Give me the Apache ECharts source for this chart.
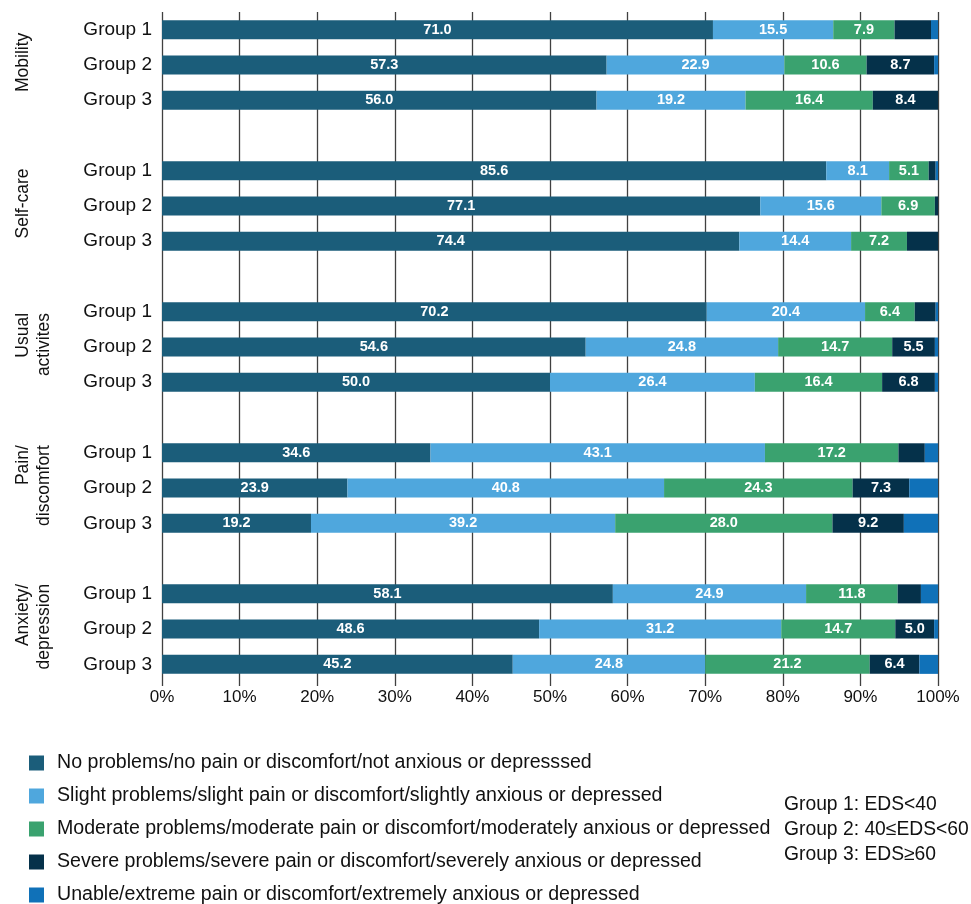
<!DOCTYPE html>
<html>
<head>
<meta charset="utf-8">
<script src="https://cdn.jsdelivr.net/npm/echarts@6/dist/echarts.min.js"></script>
<style>
html,body{margin:0;padding:0;background:#fff;}
#chart{width:971px;height:904px;}
</style>
</head>
<body>
<div id="chart"></div>
<script>
// ---- data ----
const dimensions = ['Mobility', 'Self-care', 'Usual\nactivites', 'Pain/\ndiscomfort', 'Anxiety/\ndepression'];
const groups = ['Group 1', 'Group 2', 'Group 3'];
const seriesNames = [
  'No problems/no pain or discomfort/not anxious or depresssed',
  'Slight problems/slight pain or discomfort/slightly anxious or depressed',
  'Moderate problems/moderate pain or discomfort/moderately anxious or depressed',
  'Severe problems/severe pain or discomfort/severely anxious or depressed',
  'Unable/extreme pain or discomfort/extremely anxious or depressed'
];
// order: Mobility G1..G3, Self-care G1..G3, Usual G1..G3, Pain G1..G3, Anxiety G1..G3
const noProblems = [71.0, 57.3, 56.0, 85.6, 77.1, 74.4, 70.2, 54.6, 50.0, 34.6, 23.9, 19.2, 58.1, 48.6, 45.2];
const slight     = [15.5, 22.9, 19.2, 8.1, 15.6, 14.4, 20.4, 24.8, 26.4, 43.1, 40.8, 39.2, 24.9, 31.2, 24.8];
const moderate   = [7.9, 10.6, 16.4, 5.1, 6.9, 7.2, 6.4, 14.7, 16.4, 17.2, 24.3, 28.0, 11.8, 14.7, 21.2];
const severe     = [4.7, 8.7, 8.4, 0.9, 0.4, 4.0, 2.7, 5.5, 6.8, 3.4, 7.3, 9.2, 3.0, 5.0, 6.4];
const unable     = [0.9, 0.5, 0.0, 0.3, 0.0, 0.0, 0.3, 0.4, 0.4, 1.7, 3.7, 4.4, 2.2, 0.5, 2.4];
const xTicks = [0, 10, 20, 30, 40, 50, 60, 70, 80, 90, 100];
const groupNote = ['Group 1: EDS<40', 'Group 2: 40≤EDS<60', 'Group 3: EDS≥60'];

const colors = ['#1b5d7a', '#4fa7dd', '#3aa26f', '#05314a', '#1071b8'];
const FONT = '"Liberation Sans", Arial, sans-serif';

// ---- build category slots (group rows + blank spacer rows) ----
const groupLabels = [];
const dimLabels = [];
const slotIndex = [];
dimensions.forEach((d, di) => {
  groups.forEach((g, gi) => {
    slotIndex.push(groupLabels.length);
    groupLabels.push(g);
    dimLabels.push(gi === 1 ? d : '');
  });
  if (di < dimensions.length - 1) { groupLabels.push(''); dimLabels.push(''); }
});
function toSlots(arr) {
  const out = groupLabels.map(() => null);
  arr.forEach((v, i) => { out[slotIndex[i]] = v; });
  return out;
}
const allValues = [noProblems, slight, moderate, severe, unable];

const chart = echarts.init(document.getElementById('chart'));
chart.setOption({
  animation: false,
  textStyle: { fontFamily: FONT },
  color: colors,
  grid: { left: 162, right: 33, top: 12, bottom: 222, containLabel: false },
  xAxis: {
    type: 'value', min: xTicks[0], max: xTicks[xTicks.length - 1], interval: xTicks[1] - xTicks[0],
    axisLine: { show: false },
    axisTick: { show: true, length: 4, lineStyle: { color: '#404040', width: 1.3 } },
    splitLine: { show: true, lineStyle: { color: '#404040', width: 1.3 } },
    axisLabel: { formatter: '{value}%', fontSize: 17, color: '#111', margin: 7, fontFamily: FONT }
  },
  yAxis: [{
    type: 'category', inverse: true, data: groupLabels,
    axisLine: { show: false }, axisTick: { show: false },
    axisLabel: { fontSize: 19, color: '#111', margin: 10, fontFamily: FONT, interval: 0 }
  }, {
    type: 'category', inverse: true, data: dimLabels, position: 'left', offset: 149,
    axisLine: { show: false }, axisTick: { show: false },
    axisLabel: {
      rotate: 90, fontSize: 17.5, color: '#111', margin: 0, interval: 0,
      verticalAlign: 'top', align: 'center', lineHeight: 21, fontFamily: FONT,
      padding: [0, 0, 0, 5],
      formatter: v => v ? v.split('\n').map(l => '{r|' + l + '}').join('\n') : '',
      rich: { r: { align: 'right', fontSize: 17.5, lineHeight: 21, color: '#111', fontFamily: FONT } }
    }
  }],
  legend: {
    orient: 'vertical', left: 29, top: 753, height: 200, icon: 'rect', padding: 0,
    itemWidth: 15, itemHeight: 15, itemGap: 13,
    textStyle: { fontSize: 19.6, color: '#111', lineHeight: 19, padding: [0, 0, 0, 8], fontFamily: FONT },
    data: seriesNames
  },
  graphic: [{
    type: 'text', left: 784, top: 792,
    style: { text: groupNote.join('\n'), fontSize: 19.3, lineHeight: 25, fill: '#111', font: '19.3px ' + FONT }
  }],
  series: seriesNames.map((name, si) => ({
    name, type: 'bar', stack: 'total', barWidth: 19,
    data: toSlots(allValues[si]),
    label: {
      show: true, position: 'inside', color: '#fff', fontWeight: 'bold', fontSize: 14.5, fontFamily: FONT,
      formatter: p => (p.value != null && p.value >= 5) ? p.value.toFixed(1) : ''
    }
  }))
});
</script>
</body>
</html>
